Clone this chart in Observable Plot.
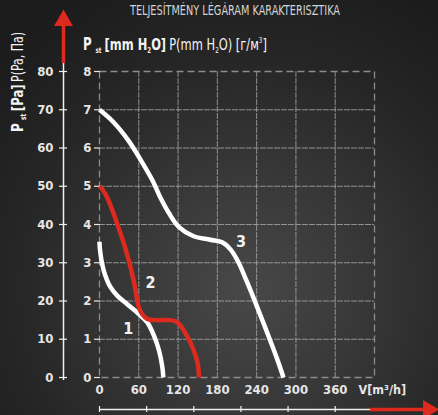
<!DOCTYPE html>
<html>
<head>
<meta charset="utf-8">
<script src="https://cdn.jsdelivr.net/npm/d3@7"></script>
<script src="https://cdn.jsdelivr.net/npm/@observablehq/plot@0.6"></script>
<style>
  html, body { margin: 0; padding: 0; width: 438px; height: 415px; overflow: hidden; background: #222; }
  #chart svg { display: block; }
</style>
</head>
<body>
<div id="chart"></div>
<script>
// ---- data ----
const title = "TELJESÍTMÉNY LÉGÁRAM KARAKTERISZTIKA";
const xTicks = [0, 60, 120, 180, 240, 300, 360];
const yTicks = [0, 1, 2, 3, 4, 5, 6, 7, 8];
const paTicks = [0, 10, 20, 30, 40, 50, 60, 70, 80];
const secondaryTicks = [0, 72, 144, 216, 288, 360];
const xLabel = "V[m³/h]";

const curve1Q = [0, 1, 6.6, 16.8, 27, 42, 60, 73, 83, 91, 96, 97.5];
const curve1P = [3.55, 3.3, 2.79, 2.36, 2.14, 1.92, 1.66, 1.44, 1.1, 0.7, 0.27, 0];

const curve2Q = [0, 6, 14, 27, 40, 52, 60, 65, 73, 88, 109, 119, 132, 142, 150, 152];
const curve2P = [5.0, 4.88, 4.62, 4.02, 3.35, 2.55, 1.84, 1.66, 1.53, 1.5, 1.5, 1.44, 1.14, 0.79, 0.36, 0];

const curve3Q = [0, 20, 44, 66, 81, 92, 106, 121, 143, 169, 188, 200, 212, 224, 236, 248, 260, 271, 281];
const curve3P = [7.0, 6.7, 6.2, 5.6, 5.15, 4.74, 4.3, 3.94, 3.7, 3.6, 3.53, 3.35, 3.02, 2.55, 2.05, 1.53, 1.0, 0.5, 0];

const curveNames = ["1", "2", "3"];
const labelQ = [44, 78, 216];
const labelP = [1.28, 2.48, 3.55];

// ---- tables ----
const toRows = (name, qs, ps) => qs.map((q, i) => ({series: name, q, p: ps[i]}));
const c1 = toRows("1", curve1Q, curve1P);
const c2 = toRows("2", curve2Q, curve2P);
const c3 = toRows("3", curve3Q, curve3P);
const labels = curveNames.map((n, i) => ({n, q: labelQ[i], p: labelP[i]}));

const font = "'Liberation Sans Narrow', 'DejaVu Sans Condensed', 'Roboto Condensed', sans-serif";
const RED = "#dc2a1e";
const GRID = "#a8a8a8";

const plot = Plot.plot({
  width: 438,
  height: 415,
  marginLeft: 99,
  marginRight: 64,
  marginTop: 71,
  marginBottom: 38,
  style: {background: "radial-gradient(ellipse 75% 80% at 56% 70%, #484848 0%, #383838 35%, #262626 70%, #1c1c1c 100%)", color: "#e6e6e6", fontFamily: font, overflow: "visible"},
  x: {domain: [0, 420], axis: null},
  y: {domain: [0, 8], axis: null},
  marks: [
    Plot.ruleY(yTicks.slice(1, -1), {stroke: GRID, strokeOpacity: 0.8, strokeWidth: 1, strokeDasharray: "6,1"}),
    Plot.ruleX(xTicks.slice(1), {stroke: GRID, strokeOpacity: 0.8, strokeWidth: 1, strokeDasharray: "6,1"}),
    Plot.frame({stroke: "#8c8c8c", strokeWidth: 1.3, strokeDasharray: "7,4"}),
    Plot.ruleY(yTicks, {x1: 0, x2: 0, insetLeft: -5, insetRight: -1, stroke: "#e6e6e6", strokeWidth: 1.2}),
    Plot.text(yTicks, {frameAnchor: "left", y: d => d, text: d => String(d), dx: -8, textAnchor: "end", fontSize: 13, fontWeight: "bold", fill: "#e6e6e6"}),
    Plot.ruleX([0], {y1: 8, y2: 0, dx: -36, insetTop: -8, insetBottom: -3, stroke: "#f0f0f0", strokeWidth: 1.5}),
    Plot.ruleY(yTicks, {x1: 0, x2: 0, dx: -36, insetLeft: -4, insetRight: -4, stroke: "#f0f0f0", strokeWidth: 1.2}),
    Plot.text(paTicks, {frameAnchor: "left", y: d => d / 10, text: d => String(d), dx: -46, textAnchor: "end", fontSize: 13, fontWeight: "bold", fill: "#e6e6e6"}),
    Plot.ruleX([0], {y1: 8, y2: 8, dx: -36, insetTop: -46, insetBottom: 8, stroke: RED, strokeWidth: 3.5}),
    Plot.dot([8], {x: 0, y: d => d, dx: -36, dy: -51, symbol: "triangle", r: 7, fill: RED, stroke: "none"}),
    Plot.text(xTicks, {x: d => d, frameAnchor: "bottom", dy: 16, text: d => String(d), fontSize: 13, fontWeight: "bold", fill: "#e6e6e6"}),
    Plot.text([xLabel], {frameAnchor: "bottom-right", dx: -16, dy: 16, textAnchor: "start", text: d => d, fontSize: 12.5, fontWeight: "bold", fill: "#e6e6e6"}),
    Plot.ruleY([0], {x1: 0, x2: 420, dy: 32, insetRight: 4, stroke: "#f0f0f0", strokeWidth: 1.5}),
    Plot.ruleX(secondaryTicks, {x: d => d, y1: 0, y2: 0, dy: 32, insetTop: -3, insetBottom: -3, stroke: "#f0f0f0", strokeWidth: 1.2}),
    Plot.ruleY([0], {x1: 420, x2: 420, dy: 32, insetLeft: -4, insetRight: -50, stroke: RED, strokeWidth: 3.5}),
    Plot.dot([0], {x: 420, y: d => d, dx: 54, dy: 32, symbol: "triangle", rotate: 90, r: 7, fill: RED, stroke: "none"}),
    Plot.line(c1, {x: "q", y: "p", stroke: "#ffffff", strokeWidth: 4.5, curve: "catmull-rom", strokeLinecap: "butt"}),
    Plot.line(c3, {x: "q", y: "p", stroke: "#ffffff", strokeWidth: 4.5, curve: "catmull-rom", strokeLinecap: "butt"}),
    Plot.line(c2, {x: "q", y: "p", stroke: RED, strokeWidth: 4.5, curve: "catmull-rom", strokeLinecap: "butt"}),
    Plot.text(labels, {x: "q", y: "p", text: "n", fontSize: 16, fontWeight: "bold", fill: "#f2f2f2"})
  ]
});

document.getElementById("chart").appendChild(plot);
const svg = d3.select(plot);

function fit(g, target) {
  const w = g.node().getBBox().width;
  return w > 0 ? target / w : 1;
}

// title
svg.append("text")
  .attr("x", 235).attr("y", 15)
  .attr("text-anchor", "middle")
  .attr("font-family", font).attr("font-size", 13.5)
  .attr("textLength", 210).attr("lengthAdjust", "spacingAndGlyphs")
  .attr("fill", "#d4d4d4")
  .text(title);

// top axis label
const topG = svg.append("g");
const topLabel = topG.append("text")
  .attr("x", 0).attr("y", 0)
  .attr("text-anchor", "start")
  .attr("font-family", font).attr("font-size", 16.5)
  .attr("fill", "#f4f4f4");
topLabel.append("tspan").attr("font-weight", "bold").attr("font-size", 17).text("P");
topLabel.append("tspan").attr("font-weight", "bold").attr("font-size", 8).attr("dx", 5).attr("dy", 2.5).text("st");
topLabel.append("tspan").attr("font-weight", "bold").attr("dx", 4).attr("dy", -2.5).text("[mm H");
topLabel.append("tspan").attr("font-weight", "bold").attr("font-size", 8).attr("dy", 3).text("2");
topLabel.append("tspan").attr("font-weight", "bold").attr("dy", -3).text("O]");
topLabel.append("tspan").attr("dx", 4).text("P(mm H");
topLabel.append("tspan").attr("font-size", 8).attr("dy", 3).text("2");
topLabel.append("tspan").attr("dy", -3).text("O) [г/м");
topLabel.append("tspan").attr("font-size", 8).attr("dy", -7).text("3");
topLabel.append("tspan").attr("dy", 7).text("]");
topG.attr("transform", `translate(83,50) scale(${fit(topG, 184)},1)`);

// rotated left label
const leftG = svg.append("g");
const leftLabel = leftG.append("text")
  .attr("x", 0).attr("y", 0)
  .attr("text-anchor", "start")
  .attr("font-family", font).attr("font-size", 16)
  .attr("fill", "#f4f4f4");
leftLabel.append("tspan").attr("font-weight", "bold").attr("font-size", 16.5).text("P");
leftLabel.append("tspan").attr("font-weight", "bold").attr("font-size", 8).attr("dx", 4).attr("dy", 2.5).text("st");
leftLabel.append("tspan").attr("font-weight", "bold").attr("dx", 3).attr("dy", -2.5).text("[Pa]");
leftLabel.append("tspan").attr("dx", 3).attr("font-size", 15).text("P(Pa, Па)");
leftG.attr("transform", `translate(23,132) rotate(-90) scale(${fit(leftG, 100)},1)`);
</script>
</body>
</html>
